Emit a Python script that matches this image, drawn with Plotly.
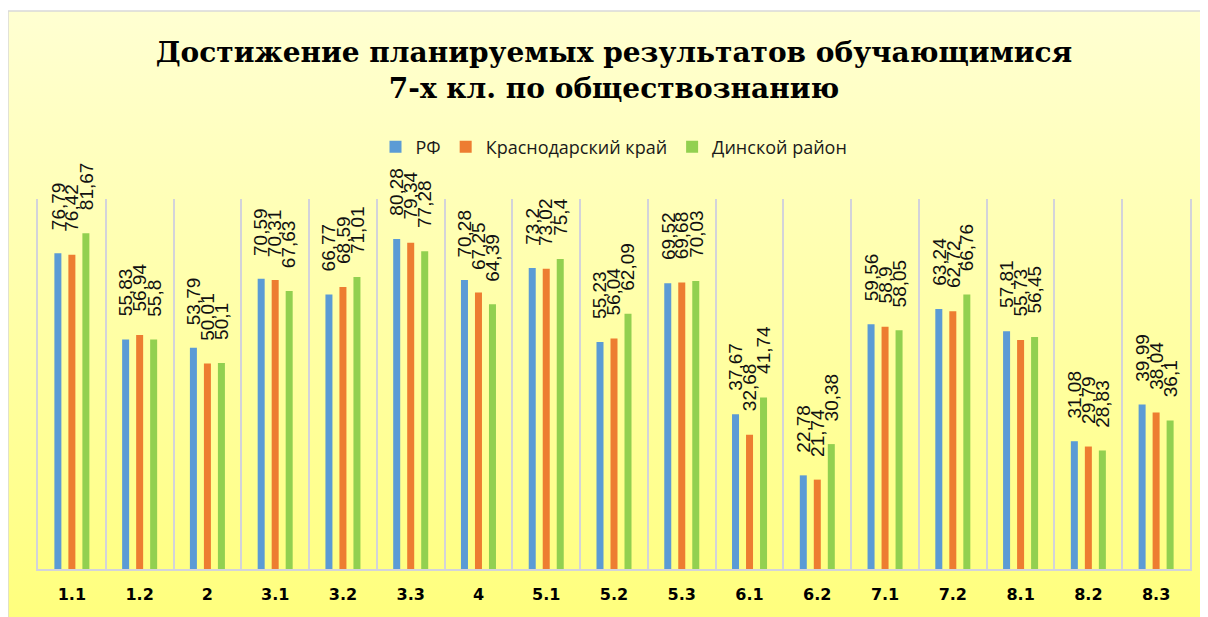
import base64
import plotly.graph_objects as go

categories = ["1.1", "1.2", "2", "3.1", "3.2", "3.3", "4", "5.1", "5.2", "5.3",
              "6.1", "6.2", "7.1", "7.2", "8.1", "8.2", "8.3"]
rf = [76.79, 55.83, 53.79, 70.59, 66.77, 80.28, 70.28, 73.2, 55.23, 69.52,
      37.67, 22.78, 59.56, 63.24, 57.81, 31.08, 39.99]
krasnodar = [76.42, 56.94, 50.01, 70.31, 68.59, 79.34, 67.25, 73.02, 56.04, 69.68,
             32.68, 21.74, 58.9, 62.72, 55.73, 29.79, 38.04]
dinskoy = [81.67, 55.8, 50.1, 67.63, 71.01, 77.28, 64.39, 75.4, 62.09, 70.03,
           41.74, 30.38, 58.05, 66.76, 56.45, 28.83, 36.1]

series_names = ["РФ", "Краснодарский край", "Динской район"]
series_values = [rf, krasnodar, dinskoy]
series_colors = ["#5B9BD5", "#ED7D31", "#92D050"]
label_shift = [-14, 0, 14]

title_text = "Достижение планируемых результатов обучающимися<br>7-х кл. по обществознанию"


def fmt(v):
    return f"{v:g}".replace(".", ",")


W, H = 1208, 617
ML, MR, MT, MB = 30, 26, 191, 56
PW, PH = W - ML - MR, H - MT - MB

fig = go.Figure()
for name, vals, col in zip(series_names, series_values, series_colors):
    fig.add_trace(go.Bar(x=categories, y=vals, name=name, marker_color=col,
                         marker_line_width=0))

annotations = []
for vals, dx in zip(series_values, label_shift):
    for i, v in enumerate(vals):
        annotations.append(dict(
            x=i, y=v, xref="x", yref="y", text=fmt(v), showarrow=False,
            textangle=-90, xanchor="center", yanchor="bottom",
            xshift=dx, yshift=21,
            font=dict(family="Liberation Sans", size=19, color="#111111")))

svg = ('<svg xmlns="http://www.w3.org/2000/svg" width="100" height="100" preserveAspectRatio="none">'
       '<defs><linearGradient id="g" x1="0" y1="0" x2="0" y2="1">'
       '<stop offset="0" stop-color="#FFFFD2"/><stop offset="1" stop-color="#FFFF7C"/>'
       '</linearGradient></defs><rect width="100" height="100" fill="url(#g)"/></svg>')
src = "data:image/svg+xml;base64," + base64.b64encode(svg.encode()).decode()


def px2x(px):
    return (px - ML) / PW


def py2y(py):
    return (H - MB - py) / PH


bx0, by0, bx1, by1 = 0, 3, 1197, 620

fig.update_layout(
    width=W, height=H,
    margin=dict(l=ML, r=MR, t=MT, b=MB),
    paper_bgcolor="white",
    plot_bgcolor="rgba(0,0,0,0)",
    barmode="group", bargap=0.38, bargroupgap=0.5,
    title=dict(text=title_text, x=0.5, xref="paper", xanchor="center",
               y=1 - 53.5 / H, yanchor="middle",
               font=dict(family="DejaVu Serif", size=28, color="#000000", weight="bold")),
    legend=dict(orientation="h", x=0.5, xanchor="center", y=py2y(139), yanchor="middle",
                font=dict(family="Open Sans", size=18, color="#1a1a1a"),
                bgcolor="rgba(0,0,0,0)", itemwidth=30, tracegroupgap=0),
    xaxis=dict(type="category", tickson="boundaries", showgrid=True,
               gridcolor="#D3D3DA", gridwidth=1.5,
               showline=True, linecolor="#D3D3DA", linewidth=1.5,
               ticks="", ticklabelstandoff=10,
               tickfont=dict(family="DejaVu Sans", size=16, color="#000000", weight="bold"),
               range=[-0.5, len(categories) - 0.5], fixedrange=True),
    yaxis=dict(range=[0, 90], showgrid=False, zeroline=False, showticklabels=False,
               showline=True, mirror=True, linecolor="#D3D3DA", linewidth=1.5, ticks=""),
    annotations=annotations,
    images=[dict(source=src, xref="paper", yref="paper",
                 x=px2x(bx0), y=py2y(by0), sizex=(bx1 - bx0) / PW, sizey=(by1 - by0) / PH,
                 xanchor="left", yanchor="top", sizing="stretch", layer="below")],
    shapes=[dict(type="rect", xref="paper", yref="paper",
                 x0=px2x(bx0), x1=px2x(bx1), y0=py2y(by1), y1=py2y(by0),
                 line=dict(color="#D9D9D9", width=1.5), layer="below")],
)

fig.write_html("out.html")
